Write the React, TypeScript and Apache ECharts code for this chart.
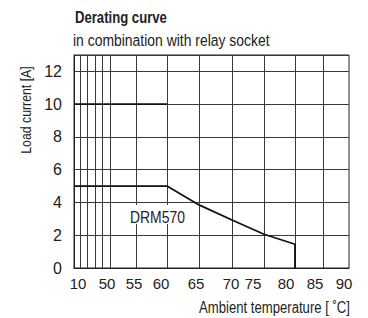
import React, { useEffect, useRef } from 'react';
import * as echarts from 'echarts';

const titleText = 'Derating curve';
const subtitleText = 'in combination with relay socket';
const yAxisName = 'Load current [A]';
const xAxisName = 'Ambient temperature [ ˚C]';
const seriesLabel = 'DRM570';

// The source drawing uses a non-linear temperature scale: temperature -> axis unit
const scaleTemps = [10, 50, 55, 60, 65, 70, 75, 80, 85, 90];
const scaleUnits = [0, 28, 62, 93, 125, 158, 190, 221, 249, 275];

// Tick labels and where the drawing puts them / its grid lines (axis units)
const xTickLabels = ['10', '50', '55', '60', '65', '70', '75', '80', '85', '90'];
const xLabelUnits = [4, 33, 60, 87, 122, 157, 179, 212, 241, 270];
const xGridUnits = [6, 13, 21, 28, 36, 62, 93, 125, 158, 190, 221, 249];

const yMin = 0;
const yMax = 13;
const yInterval = 2;

// Series values: temperature (°C) and load current (A)
const tempsUpper = [10, 60];
const currentUpper = [10, 10];
const tempsDRM = [10, 60, 65, 70, 75, 80, 80];
const currentDRM = [5, 5, 3.85, 2.93, 2.06, 1.45, 0];

const FONT = "'Liberation Sans', Arial, sans-serif";
const NARROW = 0.82;

function toUnit(t: number): number {
  for (let i = 0; i < scaleTemps.length - 1; i++) {
    const a = scaleTemps[i];
    const b = scaleTemps[i + 1];
    if (t <= b) {
      return scaleUnits[i] + ((t - a) / (b - a)) * (scaleUnits[i + 1] - scaleUnits[i]);
    }
  }
  return scaleUnits[scaleUnits.length - 1];
}

export default function App() {
  const ref = useRef<HTMLDivElement>(null);
  useEffect(() => {
    document.body.style.margin = '0';
    if (!ref.current) return;
    const chart = echarts.init(ref.current, null, { renderer: 'svg' });
    const option: any = {
      animation: false,
      backgroundColor: '#fff',
      grid: {
        left: 74,
        right: 19,
        top: 55,
        bottom: 50,
        show: true,
        borderColor: '#222',
        borderWidth: 1,
        backgroundColor: 'transparent',
      },
      xAxis: {
        type: 'value',
        min: scaleUnits[0],
        max: scaleUnits[scaleUnits.length - 1],
        axisLine: { show: true, lineStyle: { color: '#222', width: 1 } },
        axisTick: { show: false, customValues: xGridUnits },
        splitLine: { show: true, lineStyle: { color: '#3a3a3a', width: 1 } },
        axisLabel: {
          customValues: xLabelUnits,
          formatter: (v: number) => {
            const i = xLabelUnits.indexOf(Math.round(v));
            return i >= 0 ? xTickLabels[i] : '';
          },
          fontFamily: FONT,
          fontSize: 15,
          color: '#222',
          margin: 8,
        },
      },
      yAxis: {
        type: 'value',
        min: yMin,
        max: yMax,
        interval: yInterval,
        axisLine: { show: true, lineStyle: { color: '#222', width: 1 } },
        axisTick: { show: false },
        splitLine: { show: true, lineStyle: { color: '#3a3a3a', width: 1 } },
        axisLabel: {
          formatter: (v: number) => (v % yInterval === 0 ? String(v) : ''),
          fontFamily: FONT,
          fontSize: 16,
          color: '#222',
          margin: 12,
        },
      },
      graphic: [
        {
          type: 'text',
          x: 75,
          y: 18,
          scaleX: NARROW,
          style: {
            text: titleText,
            fontFamily: FONT,
            fontSize: 16,
            fontWeight: 'bold',
            fill: '#222',
            align: 'left',
            verticalAlign: 'middle',
          },
        },
        {
          type: 'text',
          x: 73,
          y: 40,
          scaleX: NARROW,
          style: {
            text: subtitleText,
            fontFamily: FONT,
            fontSize: 17,
            fill: '#222',
            align: 'left',
            verticalAlign: 'middle',
          },
        },
        {
          type: 'text',
          x: 26,
          y: 110,
          rotation: Math.PI / 2,
          scaleX: NARROW,
          style: {
            text: yAxisName,
            fontFamily: FONT,
            fontSize: 15,
            fill: '#222',
            align: 'center',
            verticalAlign: 'middle',
          },
        },
        {
          type: 'text',
          x: 350,
          y: 308,
          scaleX: NARROW,
          style: {
            text: xAxisName,
            fontFamily: FONT,
            fontSize: 16,
            fill: '#222',
            align: 'right',
            verticalAlign: 'middle',
          },
        },
        {
          type: 'rect',
          shape: { x: 127, y: 205, width: 71, height: 19 },
          style: { fill: '#fff' },
          z: 100,
        },
        {
          type: 'text',
          x: 130,
          y: 217,
          z: 101,
          scaleX: NARROW,
          style: {
            text: seriesLabel,
            fontFamily: FONT,
            fontSize: 17,
            fill: '#222',
            align: 'left',
            verticalAlign: 'middle',
          },
        },
      ],
      series: [
        {
          type: 'line',
          data: tempsUpper.map((t, i) => [toUnit(t), currentUpper[i]]),
          symbol: 'none',
          lineStyle: { color: '#111', width: 1.8 },
          z: 5,
        },
        {
          type: 'line',
          data: tempsDRM.map((t, i) => [toUnit(t), currentDRM[i]]),
          symbol: 'none',
          lineStyle: { color: '#111', width: 1.8 },
          z: 5,
        },
      ],
    };
    chart.setOption(option);
    return () => chart.dispose();
  }, []);
  return <div ref={ref} style={{ width: 368, height: 318 }} />;
}
